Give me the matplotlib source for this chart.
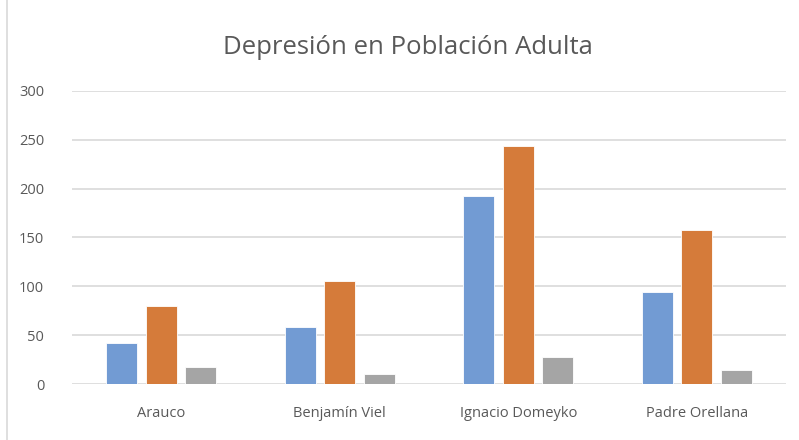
import numpy as np
import matplotlib
matplotlib.use("Agg")
import matplotlib.pyplot as plt

# datos
categorias = ["Arauco", "Benjamín Viel", "Ignacio Domeyko", "Padre Orellana"]
serie_1 = [42, 58, 192, 94]
serie_2 = [80, 105, 244, 158]
serie_3 = [17, 10, 28, 14]
colores = ["#729BD3", "#D57B3A", "#A5A5A5"]

plt.rcParams["font.family"] = ["Open Sans", "DejaVu Sans"]

fig = plt.figure(figsize=(7.99, 4.40), dpi=100)
ax = fig.add_axes([72 / 799, 56 / 440, 714 / 799, 293 / 440])

x = np.arange(len(categorias))
ancho = 0.174
paso = 0.222
for i, (vals, c) in enumerate(zip([serie_1, serie_2, serie_3], colores)):
    ax.bar(x + (i - 1) * paso, vals, ancho, color=c, edgecolor="white", linewidth=0.6, zorder=3)

ax.set_xlim(-0.5, len(categorias) - 0.5)
ax.set_ylim(0, 300)
ax.set_yticks(range(0, 301, 50))
ax.set_xticks(x)
ax.set_xticklabels(categorias)
ax.grid(axis="y", color="#D9D9D9", linewidth=1.2, zorder=0)
for s in ax.spines.values():
    s.set_visible(False)
ax.tick_params(length=0, colors="#595959", labelsize=10.5)
ax.tick_params(axis="x", pad=16)
ax.tick_params(axis="y", pad=20)

# titulo
fig.text(0.51, 0.893, "Depresión en Población Adulta", ha="center", va="center",
         fontsize=18.5, color="#595959")

# borde izquierdo del área del gráfico
fig.add_artist(plt.Line2D([7 / 799, 7 / 799], [0, 1], color="#D9D9D9", linewidth=1.2))

fig.savefig("out.png", dpi=100)
